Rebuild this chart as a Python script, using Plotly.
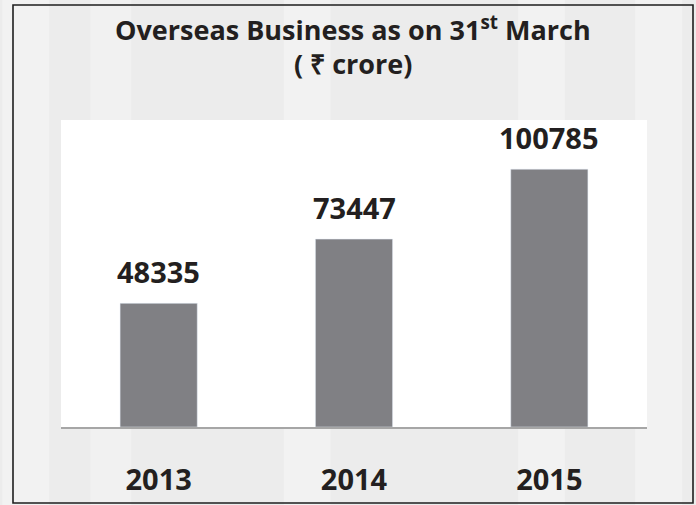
import plotly.graph_objects as go

# ---- data ----
years = ["2013", "2014", "2015"]
overseas_business = [48335, 73447, 100785]
title_line1 = "Overseas Business as on 31<sup>st</sup> March"
title_line2 = "( ₹ crore)"

W, H = 696, 505
L, R, T, B = 61, 49, 120, 78
pw, ph = W - L - R, H - T - B

def px_x(p):
    return (p - L) / pw

def px_y(p):
    return (H - B - p) / ph

TXT = "#231f20"
FONT = "Open Sans"

fig = go.Figure()
fig.add_trace(go.Bar(
    x=years, y=overseas_business,
    marker=dict(color="#808084"),
))

shapes = []
# faint background streaks
for (x0, x1, op) in [(-0.10, -0.02, 0.35), (0.05, 0.12, 0.25), (0.38, 0.46, 0.3), (0.78, 0.86, 0.3), (0.98, 1.06, 0.35)]:
    shapes.append(dict(type="rect", xref="paper", yref="paper", x0=x0, x1=x1,
                       y0=px_y(H), y1=px_y(0), fillcolor="white", opacity=op,
                       line=dict(width=0), layer="below"))
# white plot panel
shapes.append(dict(type="rect", xref="paper", yref="paper", x0=0, x1=1, y0=0, y1=1,
                   fillcolor="white", line=dict(width=0), layer="below"))
# outer frame
shapes.append(dict(type="rect", xref="paper", yref="paper",
                   x0=px_x(13), x1=px_x(693), y0=px_y(503), y1=px_y(5),
                   line=dict(color="#1e1e1e", width=1.6),
                   layer="above"))

annotations = []
for i, v in enumerate(overseas_business):
    annotations.append(dict(x=i, y=v, xref="x", yref="y", text=f"<b>{v}</b>",
                            showarrow=False, yanchor="bottom", yshift=10,
                            font=dict(family=FONT, size=29, color=TXT)))
annotations.append(dict(x=px_x(353), y=px_y(28), xref="paper", yref="paper",
                        text="<b>" + title_line1 + "</b>", showarrow=False, yanchor="middle",
                        font=dict(family=FONT, size=27, color=TXT)))
annotations.append(dict(x=px_x(353), y=px_y(64), xref="paper", yref="paper",
                        text="<b>" + title_line2 + "</b>", showarrow=False, yanchor="middle",
                        font=dict(family=FONT, size=27, color=TXT)))

fig.update_layout(
    width=W, height=H,
    margin=dict(l=L, r=R, t=T, b=B, pad=0),
    paper_bgcolor="#ececec",
    plot_bgcolor="rgba(0,0,0,0)",
    bargap=0.605,
    showlegend=False,
    shapes=shapes,
    annotations=annotations,
    xaxis=dict(
        type="category", range=[-0.5, len(years) - 0.5], automargin=False,
        showline=True, linecolor="#a6a6a6", linewidth=2,
        showgrid=False, zeroline=False, tickangle=0,
        tickmode="array", tickvals=list(range(len(years))),
        ticktext=["<b>%s</b>" % y for y in years],
        ticks="outside", ticklen=26, tickcolor="rgba(0,0,0,0)",
        tickfont=dict(family=FONT, size=29, color=TXT),
    ),
    yaxis=dict(range=[0, 120000], visible=False, showgrid=False, zeroline=False,
               automargin=False),
)

fig.write_html("out.html", config={"displayModeBar": False},
               post_script="document.body.style.margin='0px';")
